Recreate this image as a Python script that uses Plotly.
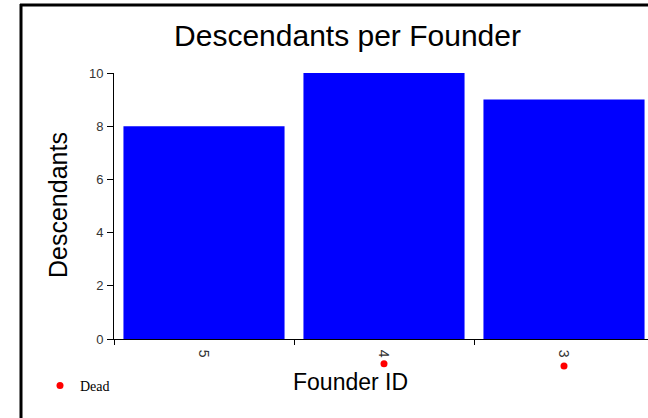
import plotly.graph_objects as go

founders = ["5", "4", "3"]
descendants = [8, 10, 9]
dead_founders = ["4", "3"]
dead_marker_level = [0.65, 0.62]

W, H = 648, 418
L, R, T, B = 114, 0, 73, 8
AXIS_Y = 339  # pixel row of the x axis line
pw, ph = W - L - R, H - T - B
split = (H - B - AXIS_Y) / ph


def px_x(p):
    return (p - L) / pw


def px_y(p):
    return (H - B - p) / ph


fig = go.Figure()
fig.add_trace(go.Bar(
    x=founders, y=descendants, marker=dict(color="#0000FF", line=dict(width=0)),
    showlegend=False, xaxis="x", yaxis="y"))
fig.add_trace(go.Scatter(
    x=dead_founders, y=dead_marker_level, mode="markers", name="Dead",
    marker=dict(color="#FF0000", size=7), xaxis="x2", yaxis="y2", cliponaxis=False))

tick_font = dict(family="Liberation Sans, Arial, sans-serif", size=13, color="#333333")
xr = [-0.5, 2.5 - 6 / 180]
fig.update_layout(
    width=W, height=H,
    margin=dict(l=L, r=R, t=T, b=B, pad=0),
    paper_bgcolor="white", plot_bgcolor="white",
    bargap=0.105,
    title=dict(text="Descendants per Founder", x=347.5 / W, xref="container", xanchor="center",
               y=1 - 35 / H, yref="container", yanchor="middle",
               font=dict(family="Liberation Sans, Arial, sans-serif", size=30, color="black")),
    xaxis=dict(type="category", range=xr, tickson="boundaries", anchor="y",
               ticks="outside", ticklen=5, tickcolor="black", tickangle=90,
               ticklabelstandoff=7,
               showline=True, linecolor="black", linewidth=1, showgrid=False,
               tickfont=dict(tick_font, size=14), fixedrange=True),
    yaxis=dict(domain=[split, 1], range=[0, 10], tickvals=[0, 2, 4, 6, 8, 10],
               ticks="outside", ticklen=6, tickcolor="black", showline=True,
               linecolor="black", linewidth=1, ticklabelstandoff=1,
               showgrid=False, zeroline=False, tickfont=tick_font, fixedrange=True),
    xaxis2=dict(type="category", range=xr, anchor="y2", visible=False, fixedrange=True,
                categoryorder="array", categoryarray=founders),
    yaxis2=dict(domain=[0, split], range=[0, 1], anchor="x2", visible=False, fixedrange=True),
    legend=dict(x=px_x(40), y=px_y(386), xanchor="left", yanchor="middle",
                font=dict(family="Liberation Serif, Times New Roman, serif", size=14, color="black"),
                bgcolor="rgba(0,0,0,0)", itemwidth=30),
    showlegend=True,
)

fig.add_annotation(text="Founder ID", xref="paper", yref="paper", x=px_x(350), y=px_y(382),
                   showarrow=False, xanchor="center", yanchor="middle",
                   font=dict(family="Liberation Sans, Arial, sans-serif", size=23, color="black"))
fig.add_annotation(text="Descendants", xref="paper", yref="paper", x=px_x(58), y=px_y(205),
                   showarrow=False, textangle=-90, xanchor="center", yanchor="middle",
                   font=dict(family="Liberation Sans, Arial, sans-serif", size=25, color="black"))

# outer frame (top and left edges visible in the crop)
fig.add_shape(type="line", xref="paper", yref="paper", x0=px_x(21), x1=px_x(21),
              y0=px_y(H + 5), y1=px_y(4), line=dict(color="black", width=3))
fig.add_shape(type="line", xref="paper", yref="paper", x0=px_x(20), x1=px_x(W + 5),
              y0=px_y(5), y1=px_y(5), line=dict(color="black", width=3))

fig.write_html("out.html", config={"displayModeBar": False},
               post_script="document.body.style.margin='0';")
